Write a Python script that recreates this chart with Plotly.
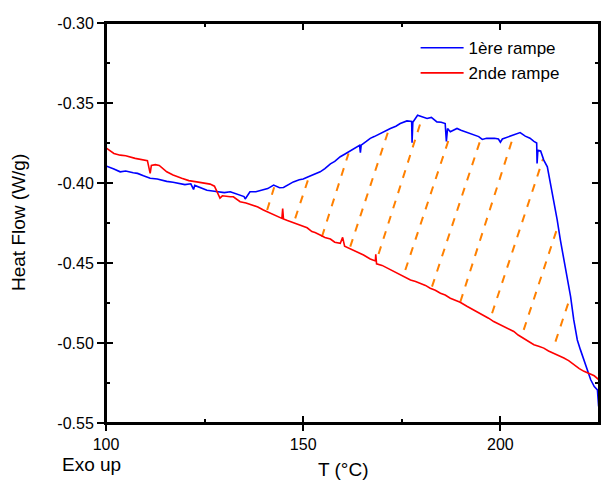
import plotly.graph_objects as go

# ---- data ----
blue_T = [100, 101, 102, 103.6, 105, 106.9, 108, 109.5, 111.2, 113, 115.4, 117, 118.8, 120, 121.5, 122.2, 122.5,
          124, 125.6, 127, 128.9, 130, 131.5, 133, 134, 135, 135.3, 136.5, 138, 139.9, 141, 142.5, 144, 145, 146,
          147.5, 149, 150, 151.3, 152.5, 154.3, 155.5, 156.9, 158, 159.4, 160.5, 161.9, 163, 164.3, 164.5, 164.7,
          166, 167, 168, 169.5, 171, 172.1, 173.5, 174.6, 176.3, 177.5, 177.6, 177.8, 179, 180, 181.4, 182.5,
          183.9, 185, 186, 186.3, 186.6, 187.3, 189, 190, 191.1, 192, 193.2, 194.5, 195.4, 196.5, 197.5, 198.5,
          199.5, 200, 200.5, 202.1, 203, 204.2, 205, 206.3, 207.5, 208.5, 209.2, 209.3, 209.5, 210.2, 211, 211.9,
          212.7, 213.5, 214.4, 215.2, 216.1, 216.9, 217.8, 218.6, 219.5, 220.3, 221.2, 222.1, 222.9, 223.8,
          224.6, 224.9]
blue_v = [-0.3893, -0.3905, -0.3912, -0.3930, -0.3925, -0.3936, -0.3940, -0.3955, -0.3970, -0.3975, -0.3990,
          -0.3995, -0.4003, -0.4010, -0.4005, -0.4040, -0.4015, -0.4030, -0.4045, -0.4050, -0.4055, -0.4060,
          -0.4055, -0.4070, -0.4076, -0.4085, -0.4100, -0.4055, -0.4055, -0.4040, -0.4035, -0.4013, -0.4030,
          -0.4028, -0.4015, -0.3993, -0.3980, -0.3975, -0.3961, -0.3948, -0.3930, -0.3910, -0.3880, -0.3865,
          -0.3836, -0.3820, -0.3800, -0.3780, -0.3765, -0.3810, -0.3763, -0.3740, -0.3721, -0.3710, -0.3690,
          -0.3675, -0.3659, -0.3645, -0.3628, -0.3612, -0.3615, -0.3749, -0.3620, -0.3577, -0.3585, -0.3597,
          -0.3590, -0.3618, -0.3620, -0.3628, -0.3740, -0.3660, -0.3680, -0.3659, -0.3670, -0.3680, -0.3685,
          -0.3700, -0.3710, -0.3728, -0.3720, -0.3721, -0.3720, -0.3725, -0.3745, -0.3725, -0.3711, -0.3700,
          -0.3690, -0.3685, -0.3707, -0.3720, -0.3740, -0.3750, -0.3878, -0.3795, -0.3800, -0.3857, -0.3899,
          -0.4003, -0.4127, -0.4231, -0.4356, -0.4481, -0.4585, -0.4710, -0.4856, -0.4981, -0.5043, -0.5106,
          -0.5168, -0.5230, -0.5272, -0.5293, -0.5397]

red_T = [100, 101, 102, 103.6, 105, 107.4, 109, 110.5, 111.2, 111.5, 112.5, 113.5, 115.4, 117, 119.2, 121, 123,
         124.5, 126.4, 127.5, 128.5, 128.9, 129.5, 130.5, 131.5, 132.3, 133, 134, 135.5, 137.4, 138.5, 139.9, 141,
         142.5, 143.5, 144.6, 144.8, 145, 146, 147.5, 148.5, 150.1, 151, 152.2, 153, 154.3, 155.5, 156.9, 158,
         159.4, 160, 160.5, 161.9, 163.5, 165.3, 167, 168.3, 168.4, 168.6, 170, 172.1, 173.5, 174.6, 176, 177.2,
         178.5, 179.7, 181, 182.2, 183.5, 184.8, 186, 187.3, 188.5, 189.8, 191.5, 193.2, 194.5, 195.8, 197, 198.3,
         199.5, 200.8, 202, 203.4, 204.5, 205.9, 207, 208.5, 209.7, 211, 212.2, 213.5, 214.8, 216.1, 217.3,
         218.6, 220, 221.2, 222.5, 223.8, 225]
red_v = [-0.3780, -0.3800, -0.3815, -0.3826, -0.3830, -0.3846, -0.3855, -0.3860, -0.3940, -0.3890, -0.3885,
         -0.3890, -0.3930, -0.3950, -0.3970, -0.3985, -0.3993, -0.4000, -0.4007, -0.4020, -0.4075, -0.4094,
         -0.4080, -0.4085, -0.4086, -0.4086, -0.4100, -0.4117, -0.4125, -0.4138, -0.4150, -0.4169, -0.4180,
         -0.4200, -0.4210, -0.4221, -0.4160, -0.4225, -0.4235, -0.4248, -0.4255, -0.4269, -0.4280, -0.4304,
         -0.4310, -0.4325, -0.4340, -0.4350, -0.4370, -0.4377, -0.4340, -0.4395, -0.4410, -0.4430, -0.4450,
         -0.4475, -0.4487, -0.4445, -0.4505, -0.4515, -0.4543, -0.4560, -0.4575, -0.4590, -0.4606, -0.4615,
         -0.4627, -0.4640, -0.4658, -0.4670, -0.4689, -0.4700, -0.4720, -0.4732, -0.4745, -0.4770, -0.4793,
         -0.4810, -0.4824, -0.4845, -0.4866, -0.4880, -0.4897, -0.4910, -0.4928, -0.4950, -0.4970, -0.4990,
         -0.5011, -0.5020, -0.5032, -0.5050, -0.5063, -0.5080, -0.5094, -0.5110, -0.5136, -0.5160, -0.5177,
         -0.5190, -0.5205, -0.5230]

# hatch lines: from the 2nd ramp (low end) to the 1st ramp (high end)
hatch_T_low = [140.86, 147.97, 154.75, 161.93, 169.11, 175.89, 182.66, 189.85, 197.89, 205.91, 213.96]
hatch_v_low = [-0.4169, -0.4221, -0.4336, -0.4398, -0.4444, -0.4544, -0.4648, -0.4742, -0.4814, -0.4918, -0.4991]
hatch_T_high = [142.64, 151.35, 161.50, 171.65, 180.20, 187.13, 194.92, 203.38, 210.79, 214.59, 217.77]
hatch_v_high = [-0.4027, -0.3971, -0.3815, -0.3670, -0.3589, -0.3712, -0.3732, -0.3701, -0.3851, -0.4269, -0.4709]

x_major = [100, 150, 200]
x_major_labels = ["100", "150", "200"]
x_minor = [125, 175, 225]
y_major = [-0.55, -0.50, -0.45, -0.40, -0.35, -0.30]
y_major_labels = ["-0.55", "-0.50", "-0.45", "-0.40", "-0.35", "-0.30"]
y_minor = [-0.525, -0.475, -0.425, -0.375, -0.325]

series_names = ["1ère rampe", "2nde rampe"]

FONT = "Liberation Sans, Arial, sans-serif"

hx, hy = [], []
for t0, v0, t1, v1 in zip(hatch_T_low, hatch_v_low, hatch_T_high, hatch_v_high):
    hx += [t0, t1, None]
    hy += [v0, v1, None]

fig = go.Figure()
fig.add_trace(go.Scatter(x=hx, y=hy, mode="lines", showlegend=False, hoverinfo="skip",
                         line=dict(color="#ff8000", width=2, dash="8px,8px")))
fig.add_trace(go.Scatter(x=blue_T, y=blue_v, mode="lines", name=series_names[0],
                         line=dict(color="#0000ff", width=1.6)))
fig.add_trace(go.Scatter(x=red_T, y=red_v, mode="lines", name=series_names[1],
                         line=dict(color="#ff0000", width=1.6)))
# invisible trace to activate the overlay axes (outside ticks + labels)
fig.add_trace(go.Scatter(x=[None], y=[None], xaxis="x2", yaxis="y2", showlegend=False, hoverinfo="skip"))

base = dict(showgrid=False, zeroline=False, linecolor="black", linewidth=1.5,
            tickcolor="black", tickwidth=1.5)

fig.update_layout(
    width=603, height=482,
    margin=dict(l=106, r=4, t=23, b=59),
    plot_bgcolor="white", paper_bgcolor="white",
    font=dict(family=FONT, size=16, color="black"),
    # main axes: inside ticks on all four sides
    xaxis=dict(range=[100, 225], tickmode="array", tickvals=x_major, showticklabels=False,
               ticks="inside", ticklen=7, showline=True, mirror="allticks", automargin=False,
               minor=dict(tickvals=x_minor, ticks="inside", ticklen=4, tickcolor="black", tickwidth=1.5),
               **base),
    yaxis=dict(range=[-0.55, -0.30], tickmode="array", tickvals=y_major, showticklabels=False,
               ticks="inside", ticklen=7, showline=True, mirror="allticks", automargin=False,
               minor=dict(tickvals=y_minor, ticks="inside", ticklen=4, tickcolor="black", tickwidth=1.5),
               **base),
    # overlay axes: outer half of major ticks + tick labels
    xaxis2=dict(range=[100, 225], overlaying="x", anchor="y2", side="bottom", tickmode="array",
                tickvals=x_major, ticktext=x_major_labels, ticks="outside", ticklen=7,
                showline=False, automargin=False, **base),
    yaxis2=dict(range=[-0.55, -0.30], overlaying="y", anchor="x2", side="left", tickmode="array",
                tickvals=y_major, ticktext=y_major_labels, ticks="outside", ticklen=8,
                showline=False, automargin=False, **base),
    legend=dict(x=0.628, y=0.982, xanchor="left", yanchor="top", bgcolor="rgba(0,0,0,0)",
                font=dict(family=FONT, size=17), itemwidth=43, tracegroupgap=0),
    shapes=[dict(type="rect", xref="paper", yref="paper", x0=0, x1=1, y0=0, y1=1,
                 line=dict(color="black", width=2), layer="above")],
    annotations=[
        dict(text="Heat Flow (W/g)", xref="paper", yref="paper", x=-0.1785, y=0.5025, textangle=-90,
             showarrow=False, font=dict(family=FONT, size=19), xanchor="center", yanchor="middle"),
        dict(text="T (°C)", xref="paper", yref="paper", x=0.481, y=-0.1166, showarrow=False,
             font=dict(family=FONT, size=19), xanchor="center", yanchor="middle"),
        dict(text="Exo up", xref="paper", yref="paper", x=-0.0284, y=-0.104, showarrow=False,
             font=dict(family=FONT, size=19), xanchor="center", yanchor="middle"),
    ],
)

fig.write_html("out.html", config={"displayModeBar": False},
               post_script="document.body.style.margin='0';document.body.style.overflow='hidden';")
